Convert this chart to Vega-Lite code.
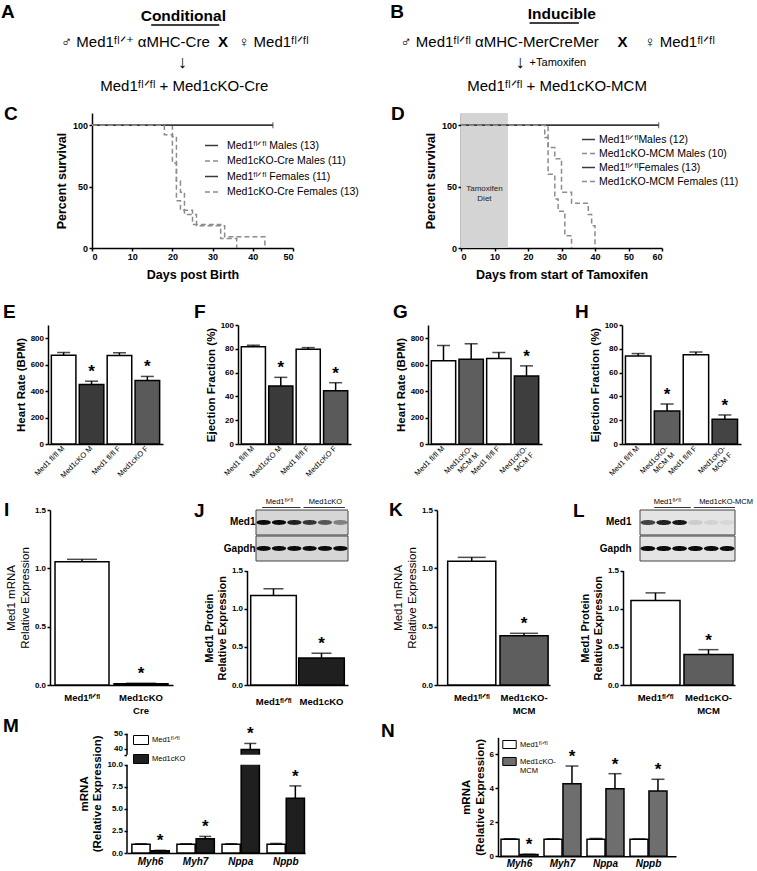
{
"$schema": "https://vega.github.io/schema/vega-lite/v6.json",
"padding": 0,
"background": "white",
"columns": 1,
"spacing": 0,
"bounds": "full",
"align": "each",
"resolve": {
  "scale": {"color": "independent", "strokeDash": "independent", "fill": "independent", "opacity": "independent", "x": "independent", "y": "independent", "xOffset": "independent"},
  "legend": {"color": "independent", "strokeDash": "independent", "fill": "independent", "opacity": "independent"},
  "axis": {"x": "independent", "y": "independent"}
},
"config": {
  "font": "Liberation Sans",
  "view": {"stroke": null},
  "axis": {"labelFont": "Liberation Sans", "titleFont": "Liberation Sans", "labelFontWeight": "bold", "titleFontWeight": "bold", "labelColor": "#000", "titleColor": "#000", "domainColor": "#000", "tickColor": "#000", "domainWidth": 1.5, "tickWidth": 1.5, "tickSize": 3, "grid": false, "labelPadding": 1.5, "titlePadding": 4, "labelFontSize": 8.5, "titleFontSize": 12, "labelOverlap": false},
  "legend": {"labelFont": "Liberation Sans", "labelColor": "#000"},
  "text": {"font": "Liberation Sans", "color": "#000"},
  "title": {"font": "Liberation Sans", "color": "#000"}
},
"concat": [
{
  "spacing": 0, "bounds": "flush", "align": "each",
  "resolve": {"scale": {"x": "independent", "y": "independent"}},
  "concat": [
  {
    "width": 378, "height": 104.7,
    "view": {"fill": "#ffffff", "stroke": null},
    "data": {"values": [
      {"line": 1, "part": "heading", "text": "Conditional"},
      {"line": 2, "part": "left", "text": "♂ Med1ᶠˡᐟ⁺ αMHC-Cre"},
      {"line": 2, "part": "cross", "text": "X"},
      {"line": 2, "part": "right", "text": "♀ Med1ᶠˡᐟᶠˡ"},
      {"line": 3, "part": "arrow", "text": "↓"},
      {"line": 4, "part": "offspring", "text": "Med1ᶠˡᐟᶠˡ + Med1cKO-Cre"}
    ]},
    "encoding": {"y": {"field": "line", "type": "ordinal", "scale": {"type": "point", "range": [16, 86], "padding": 0}, "axis": null}},
    "layer": [
      {"transform": [{"filter": "datum.part == 'heading'"}], "mark": {"type": "text", "fontSize": 15.5, "fontWeight": "bold", "align": "center", "baseline": "middle"}, "encoding": {"text": {"field": "text"}, "x": {"datum": 194, "type": "quantitative", "scale": {"domain": [0, 378]}, "axis": null}}},
      {"transform": [{"filter": "datum.part == 'left'"}], "mark": {"type": "text", "fontSize": 15, "align": "right", "baseline": "middle", "dy": 3}, "encoding": {"text": {"field": "text"}, "x": {"datum": 222, "type": "quantitative"}}},
      {"transform": [{"filter": "datum.part == 'cross'"}], "mark": {"type": "text", "fontSize": 15, "fontWeight": "bold", "align": "center", "baseline": "middle", "dy": 3}, "encoding": {"text": {"field": "text"}, "x": {"datum": 236, "type": "quantitative"}}},
      {"transform": [{"filter": "datum.part == 'right'"}], "mark": {"type": "text", "fontSize": 15, "align": "left", "baseline": "middle", "dy": 3}, "encoding": {"text": {"field": "text"}, "x": {"datum": 252, "type": "quantitative"}}},
      {"transform": [{"filter": "datum.part == 'arrow'"}], "mark": {"type": "text", "fontSize": 18, "fontWeight": "bold", "align": "center", "baseline": "middle"}, "encoding": {"text": {"field": "text"}, "x": {"datum": 193, "type": "quantitative"}}},
      {"transform": [{"filter": "datum.part == 'offspring'"}], "mark": {"type": "text", "fontSize": 15, "align": "center", "baseline": "middle"}, "encoding": {"text": {"field": "text"}, "x": {"datum": 195, "type": "quantitative"}}},
      {"transform": [{"filter": "datum.part == 'heading'"}], "mark": {"type": "rule", "strokeWidth": 1.3, "color": "#000", "yOffset": 9}, "encoding": {"x": {"datum": 160, "type": "quantitative"}, "x2": {"datum": 232}}},
      {"transform": [{"filter": "datum.part == 'heading'"}], "mark": {"type": "text", "text": "A", "fontSize": 19, "fontWeight": "bold", "align": "left", "baseline": "middle", "dy": -4}, "encoding": {"x": {"datum": 1, "type": "quantitative"}}}
    ]
  },
  {
    "width": 379, "height": 104.7,
    "view": {"fill": "#ffffff", "stroke": null},
    "data": {"values": [
      {"line": 1, "part": "heading", "text": "Inducible"},
      {"line": 2, "part": "left", "text": "♂ Med1ᶠˡᐟᶠˡ αMHC-MerCreMer"},
      {"line": 2, "part": "cross", "text": "X"},
      {"line": 2, "part": "right", "text": "♀ Med1ᶠˡᐟᶠˡ"},
      {"line": 3, "part": "arrow", "text": "↓"},
      {"line": 3, "part": "note", "text": "+Tamoxifen"},
      {"line": 4, "part": "offspring", "text": "Med1ᶠˡᐟᶠˡ + Med1cKO-MCM"}
    ]},
    "encoding": {"y": {"field": "line", "type": "ordinal", "scale": {"type": "point", "range": [14, 86], "padding": 0}, "axis": null}},
    "layer": [
      {"transform": [{"filter": "datum.part == 'heading'"}], "mark": {"type": "text", "fontSize": 15.5, "fontWeight": "bold", "align": "center", "baseline": "middle"}, "encoding": {"text": {"field": "text"}, "x": {"datum": 194, "type": "quantitative", "scale": {"domain": [0, 379]}, "axis": null}}},
      {"transform": [{"filter": "datum.part == 'left'"}], "mark": {"type": "text", "fontSize": 15, "align": "right", "baseline": "middle", "dy": 4}, "encoding": {"text": {"field": "text"}, "x": {"datum": 233, "type": "quantitative"}}},
      {"transform": [{"filter": "datum.part == 'cross'"}], "mark": {"type": "text", "fontSize": 15, "fontWeight": "bold", "align": "center", "baseline": "middle", "dy": 4}, "encoding": {"text": {"field": "text"}, "x": {"datum": 258, "type": "quantitative"}}},
      {"transform": [{"filter": "datum.part == 'right'"}], "mark": {"type": "text", "fontSize": 15, "align": "left", "baseline": "middle", "dy": 4}, "encoding": {"text": {"field": "text"}, "x": {"datum": 281, "type": "quantitative"}}},
      {"transform": [{"filter": "datum.part == 'arrow'"}], "mark": {"type": "text", "fontSize": 18, "fontWeight": "bold", "align": "center", "baseline": "middle", "dy": 1}, "encoding": {"text": {"field": "text"}, "x": {"datum": 150, "type": "quantitative"}}},
      {"transform": [{"filter": "datum.part == 'note'"}], "mark": {"type": "text", "fontSize": 11, "align": "left", "baseline": "middle", "dy": 1}, "encoding": {"text": {"field": "text"}, "x": {"datum": 160, "type": "quantitative"}}},
      {"transform": [{"filter": "datum.part == 'offspring'"}], "mark": {"type": "text", "fontSize": 15, "align": "center", "baseline": "middle"}, "encoding": {"text": {"field": "text"}, "x": {"datum": 189, "type": "quantitative"}}},
      {"transform": [{"filter": "datum.part == 'heading'"}], "mark": {"type": "rule", "strokeWidth": 1.3, "color": "#000", "yOffset": 9}, "encoding": {"x": {"datum": 160, "type": "quantitative"}, "x2": {"datum": 212}}},
      {"transform": [{"filter": "datum.part == 'heading'"}], "mark": {"type": "text", "text": "B", "fontSize": 19, "fontWeight": "bold", "align": "left", "baseline": "middle", "dy": -2}, "encoding": {"x": {"datum": 13, "type": "quantitative"}}}
    ]
  }
  ]
},
{
  "spacing": 0, "bounds": "flush", "align": "each",
  "resolve": {"scale": {"color": "independent", "strokeDash": "independent", "x": "independent", "y": "independent"}, "legend": {"color": "independent", "strokeDash": "independent"}},
  "concat": [
  {"width": 92, "height": 189.7, "data": {"values": []}, "mark": "point", "view": {"fill": "#ffffff", "stroke": null}},
  {
    "width": 201, "height": 135,
    "title": {"text": "C", "anchor": "start", "frame": "group", "fontSize": 19, "fontWeight": "bold", "dx": -88, "dy": 26, "offset": 0, "baseline": "alphabetic"},
    "layer": [
      {
        "data": {"values": [
          {"group": "Med1ᶠˡᐟᶠˡ Males (13)", "day": 0, "surv": 100},
          {"group": "Med1ᶠˡᐟᶠˡ Males (13)", "day": 45, "surv": 100},
          {"group": "Med1cKO-Cre Males (11)", "day": 0, "surv": 100},
          {"group": "Med1cKO-Cre Males (11)", "day": 20, "surv": 90.9},
          {"group": "Med1cKO-Cre Males (11)", "day": 21, "surv": 54.5},
          {"group": "Med1cKO-Cre Males (11)", "day": 22, "surv": 45.5},
          {"group": "Med1cKO-Cre Males (11)", "day": 23, "surv": 27.3},
          {"group": "Med1cKO-Cre Males (11)", "day": 26, "surv": 18.2},
          {"group": "Med1cKO-Cre Males (11)", "day": 33, "surv": 9.1},
          {"group": "Med1cKO-Cre Males (11)", "day": 43, "surv": 0},
          {"group": "Med1ᶠˡᐟᶠˡ Females (11)", "day": 0, "surv": 100},
          {"group": "Med1ᶠˡᐟᶠˡ Females (11)", "day": 45, "surv": 100},
          {"group": "Med1cKO-Cre Females (13)", "day": 0, "surv": 100},
          {"group": "Med1cKO-Cre Females (13)", "day": 18, "surv": 92.3},
          {"group": "Med1cKO-Cre Females (13)", "day": 20, "surv": 69.2},
          {"group": "Med1cKO-Cre Females (13)", "day": 21, "surv": 38.5},
          {"group": "Med1cKO-Cre Females (13)", "day": 22, "surv": 30.8},
          {"group": "Med1cKO-Cre Females (13)", "day": 25, "surv": 19.2},
          {"group": "Med1cKO-Cre Females (13)", "day": 32, "surv": 7.7},
          {"group": "Med1cKO-Cre Females (13)", "day": 36, "surv": 0}
        ]},
        "mark": {"type": "line", "interpolate": "step-after", "strokeWidth": 1.5},
        "encoding": {
          "x": {"field": "day", "type": "quantitative", "scale": {"domain": [0, 50], "nice": false}, "axis": {"values": [0, 10, 20, 30, 40, 50], "tickCount": 20, "title": "Days post Birth", "titlePadding": 7, "labelFontSize": 9, "titleFontSize": 12.5}},
          "y": {"field": "surv", "type": "quantitative", "scale": {"domain": [0, 110], "nice": false}, "axis": {"values": [0, 50, 100], "tickCount": 20, "title": "Percent survival", "labelFontSize": 9, "titleFontSize": 12.5}},
          "color": {"field": "group", "type": "nominal", "scale": {"domain": ["Med1ᶠˡᐟᶠˡ Males (13)", "Med1cKO-Cre Males (11)", "Med1ᶠˡᐟᶠˡ Females (11)", "Med1cKO-Cre Females (13)"], "range": ["#3a3a3a", "#8c8c8c", "#3a3a3a", "#8c8c8c"]}, "legend": {"title": null, "orient": "none", "legendX": 112, "legendY": 25, "symbolType": "stroke", "symbolSize": 170, "symbolStrokeWidth": 1.5, "labelFontSize": 10.5, "labelFontWeight": "normal", "rowPadding": 2.5, "labelOffset": 8}},
          "strokeDash": {"field": "group", "type": "nominal", "scale": {"domain": ["Med1ᶠˡᐟᶠˡ Males (13)", "Med1cKO-Cre Males (11)", "Med1ᶠˡᐟᶠˡ Females (11)", "Med1cKO-Cre Females (13)"], "range": [[1, 0], [5, 3], [1, 0], [5, 3]]}, "legend": {"title": null, "orient": "none", "legendX": 112, "legendY": 25, "symbolType": "stroke", "symbolSize": 170, "symbolStrokeWidth": 1.5, "labelFontSize": 10.5, "labelFontWeight": "normal", "rowPadding": 2.5, "labelOffset": 8}}
        }
      },
      {
        "data": {"values": [{"day": 45, "surv": 100}]},
        "mark": {"type": "tick", "orient": "vertical", "size": 6, "thickness": 1.2, "color": "#3a3a3a"},
        "encoding": {"x": {"field": "day", "type": "quantitative"}, "y": {"field": "surv", "type": "quantitative"}}
      }
    ]
  },
  {"width": 168, "height": 1, "data": {"values": []}, "mark": "point", "view": {"fill": "#ffffff", "stroke": null}},
  {
    "width": 201, "height": 135,
    "title": {"text": "D", "anchor": "start", "frame": "group", "fontSize": 19, "fontWeight": "bold", "dx": -70, "dy": 26, "offset": 0, "baseline": "alphabetic"},
    "layer": [
      {
        "data": {"values": [{"phase": "Tamoxifen Diet", "start": 0, "end": 14}]},
        "layer": [
          {"mark": {"type": "rect", "fill": "#d4d4d4"}, "encoding": {"x": {"field": "start", "type": "quantitative"}, "x2": {"field": "end"}, "y": {"datum": 0, "type": "quantitative"}, "y2": {"datum": 110}}},
          {"mark": {"type": "text", "lineBreak": " ", "fontSize": 8, "color": "#222", "align": "center", "baseline": "middle", "lineHeight": 10}, "encoding": {"text": {"field": "phase"}, "x": {"datum": 7, "type": "quantitative"}, "y": {"datum": 48, "type": "quantitative"}}}
        ]
      },
      {
        "data": {"values": [
          {"group": "Med1ᶠˡᐟᶠˡMales (12)", "day": 0, "surv": 100},
          {"group": "Med1ᶠˡᐟᶠˡMales (12)", "day": 59, "surv": 100},
          {"group": "Med1cKO-MCM Males (10)", "day": 0, "surv": 100},
          {"group": "Med1cKO-MCM Males (10)", "day": 25, "surv": 90},
          {"group": "Med1cKO-MCM Males (10)", "day": 26, "surv": 60},
          {"group": "Med1cKO-MCM Males (10)", "day": 28, "surv": 40},
          {"group": "Med1cKO-MCM Males (10)", "day": 29, "surv": 30},
          {"group": "Med1cKO-MCM Males (10)", "day": 31, "surv": 10},
          {"group": "Med1cKO-MCM Males (10)", "day": 33, "surv": 0},
          {"group": "Med1ᶠˡᐟᶠˡFemales (13)", "day": 0, "surv": 100},
          {"group": "Med1ᶠˡᐟᶠˡFemales (13)", "day": 59, "surv": 100},
          {"group": "Med1cKO-MCM Females (11)", "day": 0, "surv": 100},
          {"group": "Med1cKO-MCM Females (11)", "day": 26, "surv": 81.8},
          {"group": "Med1cKO-MCM Females (11)", "day": 28, "surv": 72.7},
          {"group": "Med1cKO-MCM Females (11)", "day": 30, "surv": 45.5},
          {"group": "Med1cKO-MCM Females (11)", "day": 33, "surv": 36.4},
          {"group": "Med1cKO-MCM Females (11)", "day": 38, "surv": 27.3},
          {"group": "Med1cKO-MCM Females (11)", "day": 39, "surv": 18.2},
          {"group": "Med1cKO-MCM Females (11)", "day": 40, "surv": 0}
        ]},
        "mark": {"type": "line", "interpolate": "step-after", "strokeWidth": 1.5},
        "encoding": {
          "x": {"field": "day", "type": "quantitative", "scale": {"domain": [0, 60], "nice": false}, "axis": {"values": [0, 10, 20, 30, 40, 50, 60], "tickCount": 20, "title": "Days from start of Tamoxifen", "titlePadding": 7, "labelFontSize": 9, "titleFontSize": 12.5}},
          "y": {"field": "surv", "type": "quantitative", "scale": {"domain": [0, 110], "nice": false}, "axis": {"values": [0, 50, 100], "tickCount": 20, "title": "Percent survival", "labelFontSize": 9, "titleFontSize": 12.5}},
          "color": {"field": "group", "type": "nominal", "scale": {"domain": ["Med1ᶠˡᐟᶠˡMales (12)", "Med1cKO-MCM Males (10)", "Med1ᶠˡᐟᶠˡFemales (13)", "Med1cKO-MCM Females (11)"], "range": ["#3a3a3a", "#8c8c8c", "#3a3a3a", "#8c8c8c"]}, "legend": {"title": null, "orient": "none", "legendX": 120, "legendY": 19, "symbolType": "stroke", "symbolSize": 170, "symbolStrokeWidth": 1.5, "labelFontSize": 10.5, "labelFontWeight": "normal", "rowPadding": 1, "labelOffset": 3}},
          "strokeDash": {"field": "group", "type": "nominal", "scale": {"domain": ["Med1ᶠˡᐟᶠˡMales (12)", "Med1cKO-MCM Males (10)", "Med1ᶠˡᐟᶠˡFemales (13)", "Med1cKO-MCM Females (11)"], "range": [[1, 0], [5, 3], [1, 0], [5, 3]]}, "legend": {"title": null, "orient": "none", "legendX": 120, "legendY": 19, "symbolType": "stroke", "symbolSize": 170, "symbolStrokeWidth": 1.5, "labelFontSize": 10.5, "labelFontWeight": "normal", "rowPadding": 1, "labelOffset": 3}}
        }
      },
      {
        "data": {"values": [{"day": 59, "surv": 100}]},
        "mark": {"type": "tick", "orient": "vertical", "size": 6, "thickness": 1.2, "color": "#3a3a3a"},
        "encoding": {"x": {"field": "day", "type": "quantitative"}, "y": {"field": "surv", "type": "quantitative"}}
      }
    ]
  }
  ]
},
{
  "spacing": 0, "bounds": "flush", "align": "each",
  "resolve": {"scale": {"fill": "independent", "x": "independent", "y": "independent"}},
  "concat": [
  {"width": 48, "height": 172, "data": {"values": []}, "mark": "point", "view": {"fill": "#ffffff", "stroke": null}},
  {
    "width": 115, "height": 119,
    "title": {"text": "E", "anchor": "start", "frame": "group", "fontSize": 19, "fontWeight": "bold", "dx": -45, "dy": 12, "offset": 0, "baseline": "alphabetic"},
    "data": {"values": [
      {"group": "Med1 fl/fl M", "bpm": 672, "upper": 692, "sig": false},
      {"group": "Med1cKO M", "bpm": 450, "upper": 475, "sig": true},
      {"group": "Med1 fl/fl F", "bpm": 670, "upper": 690, "sig": false},
      {"group": "Med1cKO F", "bpm": 481, "upper": 511, "sig": true}
    ]},
    "encoding": {"x": {"field": "group", "type": "nominal", "scale": {"domain": ["Med1 fl/fl M", "Med1cKO M", "Med1 fl/fl F", "Med1cKO F"], "paddingInner": 0.12, "paddingOuter": 0.12}, "axis": {"title": null, "ticks": false, "tickSize": 0, "labelAngle": -45, "labelAlign": "right", "labelBaseline": "middle", "labelFontSize": 7.5, "labelFontWeight": "normal", "labelPadding": 3, "labelOverlap": false, "labelExpr": "split(datum.label, '\\n')"}}},
    "layer": [
      {"mark": {"type": "bar", "stroke": "#000", "strokeWidth": 1.5}, "encoding": {"y": {"field": "bpm", "type": "quantitative", "scale": {"domain": [0, 900], "nice": false}, "axis": {"values": [0, 200, 400, 600, 800], "tickCount": 20, "title": "Heart Rate (BPM)", "labelFontSize": 8, "titleFontSize": 11.5}}, "fill": {"field": "group", "type": "nominal", "scale": {"domain": ["Med1 fl/fl M", "Med1cKO M", "Med1 fl/fl F", "Med1cKO F"], "range": ["#ffffff", "#3a3a3a", "#ffffff", "#5a5a5a"]}, "legend": null}}},
      {"mark": {"type": "rule", "color": "#000", "strokeWidth": 1.5}, "encoding": {"y": {"field": "bpm", "type": "quantitative"}, "y2": {"field": "upper"}}},
      {"mark": {"type": "tick", "color": "#000", "thickness": 1.5, "size": 13}, "encoding": {"y": {"field": "upper", "type": "quantitative"}}},
      {"transform": [{"filter": "datum.sig"}], "mark": {"type": "text", "text": "*", "fontSize": 17, "fontWeight": "bold", "baseline": "bottom"}, "encoding": {"y": {"field": "upper", "type": "quantitative"}}}
    ]
  },
  {"width": 75, "height": 1, "data": {"values": []}, "mark": "point", "view": {"fill": "#ffffff", "stroke": null}},
  {
    "width": 113, "height": 119,
    "title": {"text": "F", "anchor": "start", "frame": "group", "fontSize": 19, "fontWeight": "bold", "dx": -44, "dy": 16, "offset": 0, "baseline": "alphabetic"},
    "data": {"values": [
      {"group": "Med1 fl/fl M", "ef": 81.8, "upper": 83, "sig": false},
      {"group": "Med1cKO M", "ef": 48.7, "upper": 56, "sig": true},
      {"group": "Med1 fl/fl F", "ef": 79.6, "upper": 81, "sig": false},
      {"group": "Med1cKO F", "ef": 44.8, "upper": 51.5, "sig": true}
    ]},
    "encoding": {"x": {"field": "group", "type": "nominal", "scale": {"domain": ["Med1 fl/fl M", "Med1cKO M", "Med1 fl/fl F", "Med1cKO F"], "paddingInner": 0.12, "paddingOuter": 0.12}, "axis": {"title": null, "ticks": false, "tickSize": 0, "labelAngle": -45, "labelAlign": "right", "labelBaseline": "middle", "labelFontSize": 7.5, "labelFontWeight": "normal", "labelPadding": 3, "labelOverlap": false, "labelExpr": "split(datum.label, '\\n')"}}},
    "layer": [
      {"mark": {"type": "bar", "stroke": "#000", "strokeWidth": 1.5}, "encoding": {"y": {"field": "ef", "type": "quantitative", "scale": {"domain": [0, 100], "nice": false}, "axis": {"values": [0, 20, 40, 60, 80, 100], "tickCount": 20, "title": "Ejection  Fraction (%)", "labelFontSize": 8, "titleFontSize": 11.5}}, "fill": {"field": "group", "type": "nominal", "scale": {"domain": ["Med1 fl/fl M", "Med1cKO M", "Med1 fl/fl F", "Med1cKO F"], "range": ["#ffffff", "#3a3a3a", "#ffffff", "#5a5a5a"]}, "legend": null}}},
      {"mark": {"type": "rule", "color": "#000", "strokeWidth": 1.5}, "encoding": {"y": {"field": "ef", "type": "quantitative"}, "y2": {"field": "upper"}}},
      {"mark": {"type": "tick", "color": "#000", "thickness": 1.5, "size": 13}, "encoding": {"y": {"field": "upper", "type": "quantitative"}}},
      {"transform": [{"filter": "datum.sig"}], "mark": {"type": "text", "text": "*", "fontSize": 17, "fontWeight": "bold", "baseline": "bottom"}, "encoding": {"y": {"field": "upper", "type": "quantitative"}}}
    ]
  },
  {"width": 77, "height": 1, "data": {"values": []}, "mark": "point", "view": {"fill": "#ffffff", "stroke": null}},
  {
    "width": 114, "height": 119,
    "title": {"text": "G", "anchor": "start", "frame": "group", "fontSize": 19, "fontWeight": "bold", "dx": -35, "dy": 12, "offset": 0, "baseline": "alphabetic"},
    "data": {"values": [
      {"group": "Med1 fl/fl M", "bpm": 630, "upper": 745, "sig": false},
      {"group": "Med1cKO-\nMCM M", "bpm": 641, "upper": 758, "sig": false},
      {"group": "Med1 fl/fl F", "bpm": 647, "upper": 692, "sig": false},
      {"group": "Med1cKO-\nMCM F", "bpm": 515, "upper": 591, "sig": true}
    ]},
    "encoding": {"x": {"field": "group", "type": "nominal", "scale": {"domain": ["Med1 fl/fl M", "Med1cKO-\nMCM M", "Med1 fl/fl F", "Med1cKO-\nMCM F"], "paddingInner": 0.12, "paddingOuter": 0.12}, "axis": {"title": null, "ticks": false, "tickSize": 0, "labelAngle": -45, "labelAlign": "right", "labelBaseline": "middle", "labelFontSize": 7.5, "labelFontWeight": "normal", "labelPadding": 3, "labelOverlap": false, "labelLineHeight": 9, "labelExpr": "split(datum.label, '\\n')"}}},
    "layer": [
      {"mark": {"type": "bar", "stroke": "#000", "strokeWidth": 1.5}, "encoding": {"y": {"field": "bpm", "type": "quantitative", "scale": {"domain": [0, 900], "nice": false}, "axis": {"values": [0, 200, 400, 600, 800], "tickCount": 20, "title": "Heart Rate (BPM)", "labelFontSize": 8, "titleFontSize": 11.5}}, "fill": {"field": "group", "type": "nominal", "scale": {"domain": ["Med1 fl/fl M", "Med1cKO-\nMCM M", "Med1 fl/fl F", "Med1cKO-\nMCM F"], "range": ["#ffffff", "#5e5e5e", "#ffffff", "#3e3e3e"]}, "legend": null}}},
      {"mark": {"type": "rule", "color": "#000", "strokeWidth": 1.5}, "encoding": {"y": {"field": "bpm", "type": "quantitative"}, "y2": {"field": "upper"}}},
      {"mark": {"type": "tick", "color": "#000", "thickness": 1.5, "size": 13}, "encoding": {"y": {"field": "upper", "type": "quantitative"}}},
      {"transform": [{"filter": "datum.sig"}], "mark": {"type": "text", "text": "*", "fontSize": 17, "fontWeight": "bold", "baseline": "bottom"}, "encoding": {"y": {"field": "upper", "type": "quantitative"}}}
    ]
  },
  {"width": 80, "height": 1, "data": {"values": []}, "mark": "point", "view": {"fill": "#ffffff", "stroke": null}},
  {
    "width": 119, "height": 119,
    "title": {"text": "H", "anchor": "start", "frame": "group", "fontSize": 19, "fontWeight": "bold", "dx": -47, "dy": 16, "offset": 0, "baseline": "alphabetic"},
    "data": {"values": [
      {"group": "Med1 fl/fl M", "ef": 74, "upper": 76, "sig": false},
      {"group": "Med1cKO-\nMCM M", "ef": 27.7, "upper": 33.6, "sig": true},
      {"group": "Med1 fl/fl F", "ef": 75, "upper": 77.3, "sig": false},
      {"group": "Med1cKO-\nMCM F", "ef": 20.7, "upper": 24.4, "sig": true}
    ]},
    "encoding": {"x": {"field": "group", "type": "nominal", "scale": {"domain": ["Med1 fl/fl M", "Med1cKO-\nMCM M", "Med1 fl/fl F", "Med1cKO-\nMCM F"], "paddingInner": 0.12, "paddingOuter": 0.12}, "axis": {"title": null, "ticks": false, "tickSize": 0, "labelAngle": -45, "labelAlign": "right", "labelBaseline": "middle", "labelFontSize": 7.5, "labelFontWeight": "normal", "labelPadding": 3, "labelOverlap": false, "labelLineHeight": 9, "labelExpr": "split(datum.label, '\\n')"}}},
    "layer": [
      {"mark": {"type": "bar", "stroke": "#000", "strokeWidth": 1.5}, "encoding": {"y": {"field": "ef", "type": "quantitative", "scale": {"domain": [0, 100], "nice": false}, "axis": {"values": [0, 20, 40, 60, 80, 100], "tickCount": 20, "title": "Ejection  Fraction (%)", "labelFontSize": 8, "titleFontSize": 11.5}}, "fill": {"field": "group", "type": "nominal", "scale": {"domain": ["Med1 fl/fl M", "Med1cKO-\nMCM M", "Med1 fl/fl F", "Med1cKO-\nMCM F"], "range": ["#ffffff", "#5e5e5e", "#ffffff", "#444444"]}, "legend": null}}},
      {"mark": {"type": "rule", "color": "#000", "strokeWidth": 1.5}, "encoding": {"y": {"field": "ef", "type": "quantitative"}, "y2": {"field": "upper"}}},
      {"mark": {"type": "tick", "color": "#000", "thickness": 1.5, "size": 13}, "encoding": {"y": {"field": "upper", "type": "quantitative"}}},
      {"transform": [{"filter": "datum.sig"}], "mark": {"type": "text", "text": "*", "fontSize": 17, "fontWeight": "bold", "baseline": "bottom"}, "encoding": {"y": {"field": "upper", "type": "quantitative"}}}
    ]
  }
  ]
},
{
  "spacing": 0, "bounds": "flush", "align": "each",
  "resolve": {"scale": {"fill": "independent", "opacity": "independent", "x": "independent", "y": "independent"}},
  "concat": [
  {"width": 50, "height": 206.4, "data": {"values": []}, "mark": "point", "view": {"fill": "#ffffff", "stroke": null}},
  {
    "width": 123, "height": 175,
    "title": {"text": "I", "anchor": "start", "frame": "group", "fontSize": 19, "fontWeight": "bold", "dx": -46, "dy": 29, "offset": 0, "baseline": "alphabetic"},
    "data": {"values": [
      {"genotype": "Med1ᶠˡᐟᶠˡ", "expr": 1.057, "upper": 1.077, "sig": false},
      {"genotype": "Med1cKO\nCre", "expr": 0.01, "upper": 0.015, "sig": true}
    ]},
    "encoding": {"x": {"field": "genotype", "type": "nominal", "scale": {"domain": ["Med1ᶠˡᐟᶠˡ", "Med1cKO\nCre"], "paddingInner": 0.085, "paddingOuter": 0.085}, "axis": {"title": null, "ticks": false, "tickSize": 0, "labelAngle": 0, "labelFontSize": 9.5, "labelPadding": 12, "labelBaseline": "middle", "labelOverlap": false, "labelLineHeight": 13, "labelExpr": "split(datum.label, '\\n')"}}},
    "layer": [
      {"mark": {"type": "bar", "stroke": "#000", "strokeWidth": 1.5}, "encoding": {"y": {"field": "expr", "type": "quantitative", "scale": {"domain": [0, 1.5], "nice": false}, "axis": {"values": [0, 0.5, 1, 1.5], "tickCount": 20, "format": ".1f", "title": ["Med1 mRNA", "Relative  Expression"], "titleFontWeight": "normal", "labelFontSize": 8, "titleFontSize": 11.5}}, "fill": {"field": "genotype", "type": "nominal", "scale": {"domain": ["Med1ᶠˡᐟᶠˡ", "Med1cKO\nCre"], "range": ["#ffffff", "#1a1a1a"]}, "legend": null}}},
      {"mark": {"type": "rule", "color": "#000", "strokeWidth": 1.5}, "encoding": {"y": {"field": "expr", "type": "quantitative"}, "y2": {"field": "upper"}}},
      {"mark": {"type": "tick", "color": "#000", "thickness": 1.5, "size": 30}, "encoding": {"y": {"field": "upper", "type": "quantitative"}}},
      {"transform": [{"filter": "datum.sig"}], "mark": {"type": "text", "text": "*", "fontSize": 17, "fontWeight": "bold", "baseline": "bottom"}, "encoding": {"y": {"field": "upper", "type": "quantitative"}}}
    ]
  },
  {"width": 74, "height": 1, "data": {"values": []}, "mark": "point", "view": {"fill": "#ffffff", "stroke": null}},
  {
    "width": 101, "height": 175,
    "title": {"text": "J", "anchor": "start", "frame": "group", "fontSize": 19, "fontWeight": "bold", "dx": -53, "dy": 39, "offset": 0, "baseline": "alphabetic"},
    "layer": [
      {
        "data": {"values": [
          {"genotype": "Med1ᶠˡᐟᶠˡ", "protein": 1.172, "upper": 1.26, "sig": false},
          {"genotype": "Med1cKO", "protein": 0.354, "upper": 0.416, "sig": true}
        ]},
        "encoding": {"x": {"field": "genotype", "type": "nominal", "scale": {"domain": ["Med1ᶠˡᐟᶠˡ", "Med1cKO"], "paddingInner": 0.05, "paddingOuter": 0.077}, "axis": {"title": null, "ticks": false, "tickSize": 0, "labelAngle": 0, "labelFontSize": 9.5, "labelPadding": 16, "labelBaseline": "middle", "labelOverlap": false, "labelLineHeight": 13, "labelExpr": "split(datum.label, '\\n')"}}},
        "layer": [
          {"mark": {"type": "bar", "stroke": "#000", "strokeWidth": 1.5}, "encoding": {"y": {"field": "protein", "type": "quantitative", "scale": {"domain": [0, 1.5], "nice": false, "range": [175, 60.5]}, "axis": {"values": [0, 0.5, 1, 1.5], "tickCount": 20, "format": ".1f", "title": ["Med1 Protein", "Relative Expression"], "labelFontSize": 8, "titleFontSize": 11}}, "fill": {"field": "genotype", "type": "nominal", "scale": {"domain": ["Med1ᶠˡᐟᶠˡ", "Med1cKO"], "range": ["#ffffff", "#1f1f1f"]}, "legend": null}}},
          {"mark": {"type": "rule", "color": "#000", "strokeWidth": 1.5}, "encoding": {"y": {"field": "protein", "type": "quantitative"}, "y2": {"field": "upper"}}},
          {"mark": {"type": "tick", "color": "#000", "thickness": 1.5, "size": 20}, "encoding": {"y": {"field": "upper", "type": "quantitative"}}},
          {"transform": [{"filter": "datum.sig"}], "mark": {"type": "text", "text": "*", "fontSize": 17, "fontWeight": "bold", "baseline": "bottom"}, "encoding": {"y": {"field": "upper", "type": "quantitative"}}}
        ]
      },
      {
        "layer": [
          {"data": {"values": [{"band": "Med1"}, {"band": "Gapdh"}]}, "mark": {"type": "rect", "fill": "#d6d6d6", "stroke": "#444", "strokeWidth": 1},
           "encoding": {"y": {"field": "band", "type": "nominal", "scale": {"domain": ["Med1", "Gapdh"], "range": [0, 51], "paddingInner": 0.04, "paddingOuter": 0}, "axis": {"orient": "left", "title": null, "ticks": false, "domain": false, "labelFontSize": 10, "labelFontWeight": "bold", "offset": -9, "labelPadding": 1}},
                        "x": {"datum": 0, "type": "quantitative", "scale": {"domain": [0, 6], "range": [9, 101], "nice": false, "zero": false}, "axis": {"orient": "top", "title": null, "ticks": false, "tickSize": 0, "domain": false, "values": [1.5, 4.5], "tickCount": 20, "labelExpr": "datum.value < 3 ? 'Med1ᶠˡᐟᶠˡ' : 'Med1cKO'", "labelFontSize": 7.5, "labelFontWeight": "normal", "labelPadding": 5}},
                        "x2": {"datum": 6}}},
          {"data": {"values": [
            {"band": "Med1", "lane": 0.5, "intensity": 0.95}, {"band": "Med1", "lane": 1.5, "intensity": 0.95}, {"band": "Med1", "lane": 2.5, "intensity": 0.85},
            {"band": "Med1", "lane": 3.5, "intensity": 0.75}, {"band": "Med1", "lane": 4.5, "intensity": 0.6}, {"band": "Med1", "lane": 5.5, "intensity": 0.4},
            {"band": "Gapdh", "lane": 0.5, "intensity": 0.95}, {"band": "Gapdh", "lane": 1.5, "intensity": 0.95}, {"band": "Gapdh", "lane": 2.5, "intensity": 0.95},
            {"band": "Gapdh", "lane": 3.5, "intensity": 0.95}, {"band": "Gapdh", "lane": 4.5, "intensity": 0.95}, {"band": "Gapdh", "lane": 5.5, "intensity": 0.95}
           ]},
           "mark": {"type": "point", "shape": "M-1,0C-1,-0.45,1,-0.45,1,0C1,0.45,-1,0.45,-1,0Z", "size": 200, "filled": true, "color": "#000"},
           "encoding": {"x": {"field": "lane", "type": "quantitative"}, "y": {"field": "band", "type": "nominal"}, "opacity": {"field": "intensity", "type": "quantitative", "scale": {"domain": [0, 1], "range": [0, 1]}, "legend": null}}},
          {"data": {"values": [{"grp": "Med1ᶠˡᐟᶠˡ", "from": 0.4, "to": 2.9}, {"grp": "Med1cKO", "from": 3.1, "to": 5.8}]},
           "mark": {"type": "rule", "strokeWidth": 1, "color": "#333", "yOffset": -2.5},
           "encoding": {"x": {"field": "from", "type": "quantitative"}, "x2": {"field": "to"}, "y": {"datum": "Med1", "type": "nominal", "bandPosition": 0}}}
        ]
      }
    ],
    "resolve": {"scale": {"x": "independent", "y": "independent"}, "axis": {"x": "independent", "y": "independent"}}
  },
  {"width": 89, "height": 1, "data": {"values": []}, "mark": "point", "view": {"fill": "#ffffff", "stroke": null}},
  {
    "width": 113, "height": 175,
    "title": {"text": "K", "anchor": "start", "frame": "group", "fontSize": 19, "fontWeight": "bold", "dx": -48, "dy": 29, "offset": 0, "baseline": "alphabetic"},
    "data": {"values": [
      {"genotype": "Med1ᶠˡᐟᶠˡ", "expr": 1.06, "upper": 1.094, "sig": false},
      {"genotype": "Med1cKO-\nMCM", "expr": 0.423, "upper": 0.443, "sig": true}
    ]},
    "encoding": {"x": {"field": "genotype", "type": "nominal", "scale": {"domain": ["Med1ᶠˡᐟᶠˡ", "Med1cKO-\nMCM"], "paddingInner": 0.08, "paddingOuter": 0.12, "align": 0.85}, "axis": {"title": null, "ticks": false, "tickSize": 0, "labelAngle": 0, "labelFontSize": 9.5, "labelPadding": 12, "labelBaseline": "middle", "labelOverlap": false, "labelLineHeight": 13, "labelExpr": "split(datum.label, '\\n')"}}},
    "layer": [
      {"mark": {"type": "bar", "stroke": "#000", "strokeWidth": 1.5}, "encoding": {"y": {"field": "expr", "type": "quantitative", "scale": {"domain": [0, 1.5], "nice": false}, "axis": {"values": [0, 0.5, 1, 1.5], "tickCount": 20, "format": ".1f", "title": ["Med1 mRNA", "Relative  Expression"], "titleFontWeight": "normal", "labelFontSize": 8, "titleFontSize": 11.5}}, "fill": {"field": "genotype", "type": "nominal", "scale": {"domain": ["Med1ᶠˡᐟᶠˡ", "Med1cKO-\nMCM"], "range": ["#ffffff", "#5e5e5e"]}, "legend": null}}},
      {"mark": {"type": "rule", "color": "#000", "strokeWidth": 1.5}, "encoding": {"y": {"field": "expr", "type": "quantitative"}, "y2": {"field": "upper"}}},
      {"mark": {"type": "tick", "color": "#000", "thickness": 1.5, "size": 28}, "encoding": {"y": {"field": "upper", "type": "quantitative"}}},
      {"transform": [{"filter": "datum.sig"}], "mark": {"type": "text", "text": "*", "fontSize": 17, "fontWeight": "bold", "baseline": "bottom"}, "encoding": {"y": {"field": "upper", "type": "quantitative"}}}
    ]
  },
  {"width": 73, "height": 1, "data": {"values": []}, "mark": "point", "view": {"fill": "#ffffff", "stroke": null}},
  {
    "width": 112, "height": 175,
    "title": {"text": "L", "anchor": "start", "frame": "group", "fontSize": 19, "fontWeight": "bold", "dx": -50, "dy": 39, "offset": 0, "baseline": "alphabetic"},
    "layer": [
      {
        "data": {"values": [
          {"genotype": "Med1ᶠˡᐟᶠˡ", "protein": 1.106, "upper": 1.207, "sig": false},
          {"genotype": "Med1cKO-\nMCM", "protein": 0.398, "upper": 0.463, "sig": true}
        ]},
        "encoding": {"x": {"field": "genotype", "type": "nominal", "scale": {"domain": ["Med1ᶠˡᐟᶠˡ", "Med1cKO-\nMCM"], "paddingInner": 0.075, "paddingOuter": 0.094, "align": 0.8}, "axis": {"title": null, "ticks": false, "tickSize": 0, "labelAngle": 0, "labelFontSize": 9.5, "labelPadding": 12, "labelBaseline": "middle", "labelOverlap": false, "labelLineHeight": 13, "labelExpr": "split(datum.label, '\\n')"}}},
        "layer": [
          {"mark": {"type": "bar", "stroke": "#000", "strokeWidth": 1.5}, "encoding": {"y": {"field": "protein", "type": "quantitative", "scale": {"domain": [0, 1.5], "nice": false, "range": [175, 60.5]}, "axis": {"values": [0, 0.5, 1, 1.5], "tickCount": 20, "format": ".1f", "title": ["Med1 Protein", "Relative Expression"], "labelFontSize": 8, "titleFontSize": 11}}, "fill": {"field": "genotype", "type": "nominal", "scale": {"domain": ["Med1ᶠˡᐟᶠˡ", "Med1cKO-\nMCM"], "range": ["#ffffff", "#5e5e5e"]}, "legend": null}}},
          {"mark": {"type": "rule", "color": "#000", "strokeWidth": 1.5}, "encoding": {"y": {"field": "protein", "type": "quantitative"}, "y2": {"field": "upper"}}},
          {"mark": {"type": "tick", "color": "#000", "thickness": 1.5, "size": 20}, "encoding": {"y": {"field": "upper", "type": "quantitative"}}},
          {"transform": [{"filter": "datum.sig"}], "mark": {"type": "text", "text": "*", "fontSize": 17, "fontWeight": "bold", "baseline": "bottom"}, "encoding": {"y": {"field": "upper", "type": "quantitative"}}}
        ]
      },
      {
        "layer": [
          {"data": {"values": [{"band": "Med1"}, {"band": "Gapdh"}]}, "mark": {"type": "rect", "fill": "#e4e4e4", "stroke": "#444", "strokeWidth": 1},
           "encoding": {"y": {"field": "band", "type": "nominal", "scale": {"domain": ["Med1", "Gapdh"], "range": [0, 51], "paddingInner": 0.04, "paddingOuter": 0}, "axis": {"orient": "left", "title": null, "ticks": false, "domain": false, "labelFontSize": 10, "labelFontWeight": "bold", "offset": -10, "labelPadding": 2}},
                        "x": {"datum": 0, "type": "quantitative", "scale": {"domain": [0, 6], "range": [17, 112], "nice": false, "zero": false}, "axis": {"orient": "top", "title": null, "ticks": false, "tickSize": 0, "domain": false, "values": [1.7, 5.4], "tickCount": 20, "labelExpr": "datum.value < 3 ? 'Med1ᶠˡᐟᶠˡ' : 'Med1cKO-MCM'", "labelFontSize": 7.5, "labelFontWeight": "normal", "labelPadding": 5}},
                        "x2": {"datum": 6}}},
          {"data": {"values": [
            {"band": "Med1", "lane": 0.5, "intensity": 0.7}, {"band": "Med1", "lane": 1.5, "intensity": 0.85}, {"band": "Med1", "lane": 2.5, "intensity": 0.9},
            {"band": "Med1", "lane": 3.5, "intensity": 0.1}, {"band": "Med1", "lane": 4.5, "intensity": 0.07}, {"band": "Med1", "lane": 5.5, "intensity": 0.05},
            {"band": "Gapdh", "lane": 0.5, "intensity": 0.95}, {"band": "Gapdh", "lane": 1.5, "intensity": 0.95}, {"band": "Gapdh", "lane": 2.5, "intensity": 0.95},
            {"band": "Gapdh", "lane": 3.5, "intensity": 0.95}, {"band": "Gapdh", "lane": 4.5, "intensity": 0.95}, {"band": "Gapdh", "lane": 5.5, "intensity": 0.95}
           ]},
           "mark": {"type": "point", "shape": "M-1,0C-1,-0.45,1,-0.45,1,0C1,0.45,-1,0.45,-1,0Z", "size": 220, "filled": true, "color": "#000"},
           "encoding": {"x": {"field": "lane", "type": "quantitative"}, "y": {"field": "band", "type": "nominal"}, "opacity": {"field": "intensity", "type": "quantitative", "scale": {"domain": [0, 1], "range": [0, 1]}, "legend": null}}},
          {"data": {"values": [{"grp": "Med1ᶠˡᐟᶠˡ", "from": 0.9, "to": 3.2}, {"grp": "Med1cKO-MCM", "from": 3.4, "to": 6.0}]},
           "mark": {"type": "rule", "strokeWidth": 1, "color": "#333", "yOffset": -2.5},
           "encoding": {"x": {"field": "from", "type": "quantitative"}, "x2": {"field": "to"}, "y": {"datum": "Med1", "type": "nominal", "bandPosition": 0}}}
        ]
      }
    ],
    "resolve": {"scale": {"x": "independent", "y": "independent"}, "axis": {"x": "independent", "y": "independent"}}
  }
  ]
},
{
  "spacing": 0, "bounds": "flush", "align": "each",
  "resolve": {"scale": {"fill": "independent", "x": "independent", "y": "independent", "xOffset": "independent"}, "legend": {"fill": "independent"}},
  "concat": [
  {"width": 127, "height": 124, "data": {"values": []}, "mark": "point", "view": {"fill": "#ffffff", "stroke": null}},
  {
    "width": 178, "height": 120,
    "title": {"text": "M", "anchor": "start", "frame": "group", "fontSize": 19, "fontWeight": "bold", "dx": -124, "dy": 26, "offset": 0, "baseline": "alphabetic"},
    "layer": [
      {
        "data": {"values": [
          {"gene": "Myh6", "genotype": "Med1ᶠˡᐟᶠˡ", "expr": 1.0, "upper": 1.05, "sig": false},
          {"gene": "Myh6", "genotype": "Med1cKO", "expr": 0.25, "upper": 0.3, "sig": true},
          {"gene": "Myh7", "genotype": "Med1ᶠˡᐟᶠˡ", "expr": 1.0, "upper": 1.05, "sig": false},
          {"gene": "Myh7", "genotype": "Med1cKO", "expr": 1.62, "upper": 1.88, "sig": true},
          {"gene": "Nppa", "genotype": "Med1ᶠˡᐟᶠˡ", "expr": 1.0, "upper": 1.05, "sig": false},
          {"gene": "Nppa", "genotype": "Med1cKO", "expr": 39.5, "upper": 43.5, "sig": true},
          {"gene": "Nppb", "genotype": "Med1ᶠˡᐟᶠˡ", "expr": 1.0, "upper": 1.08, "sig": false},
          {"gene": "Nppb", "genotype": "Med1cKO", "expr": 6.2, "upper": 7.6, "sig": true}
        ]},
        "encoding": {
          "x": {"field": "gene", "type": "nominal", "scale": {"domain": ["Myh6", "Myh7", "Nppa", "Nppb"], "paddingInner": 0.17, "paddingOuter": 0.06, "align": 0.9}, "axis": {"title": null, "ticks": false, "tickSize": 0, "labelAngle": 0, "labelFontStyle": "italic", "labelFontSize": 10, "labelPadding": 3}},
          "xOffset": {"field": "genotype", "type": "nominal", "scale": {"domain": ["Med1ᶠˡᐟᶠˡ", "Med1cKO"], "paddingInner": 0.05}}
        },
        "layer": [
          {"mark": {"type": "bar", "stroke": "#000", "strokeWidth": 1.5}, "encoding": {"y": {"field": "expr", "type": "quantitative", "scale": {"type": "linear", "domain": [0, 10, 36, 50], "range": [120, 31.7, 21.7, 0.7], "nice": false, "zero": false}, "axis": {"domain": false, "values": [0, 2.5, 5, 7.5, 10, 36, 40, 50], "tickCount": 20, "labelOverlap": false, "labelExpr": "datum.value == 36 ? '' : datum.value > 20 ? format(datum.value, 'd') : format(datum.value, '.1f')", "title": ["mRNA", "(Relative Expression)"], "labelFontSize": 8, "titleFontSize": 11.5}},
            "fill": {"field": "genotype", "type": "nominal", "scale": {"domain": ["Med1ᶠˡᐟᶠˡ", "Med1cKO"], "range": ["#ffffff", "#1f1f1f"]}, "legend": {"title": null, "orient": "none", "legendX": 6, "legendY": -1, "symbolType": "M-1,-0.6L1,-0.6L1,0.6L-1,0.6Z", "symbolSize": 225, "symbolStrokeColor": "#000", "symbolStrokeWidth": 1, "labelFontSize": 7.5, "labelFontWeight": "normal", "rowPadding": 4, "labelOffset": 3}}}},
          {"mark": {"type": "rule", "color": "#000", "strokeWidth": 1.5}, "encoding": {"y": {"field": "expr", "type": "quantitative"}, "y2": {"field": "upper"}}},
          {"mark": {"type": "tick", "color": "#000", "thickness": 1.5, "size": 12}, "encoding": {"y": {"field": "upper", "type": "quantitative"}}},
          {"transform": [{"filter": "datum.sig"}], "mark": {"type": "text", "text": "*", "fontSize": 17, "fontWeight": "bold", "baseline": "bottom"}, "encoding": {"y": {"field": "upper", "type": "quantitative"}}}
        ]
      },
      {"data": {"values": [{"break_from": 10, "break_to": 36}]}, "mark": {"type": "rect", "fill": "#ffffff"}, "encoding": {"y": {"field": "break_from", "type": "quantitative"}, "y2": {"field": "break_to"}}},
      {"data": {"values": [{"seg_from": 0, "seg_to": 10}, {"seg_from": 36, "seg_to": 50}]}, "mark": {"type": "rule", "strokeWidth": 1.5, "color": "#000"}, "encoding": {"x": {"value": 0}, "y": {"field": "seg_from", "type": "quantitative"}, "y2": {"field": "seg_to"}}}
    ]
  },
  {"width": 193, "height": 1, "data": {"values": []}, "mark": "point", "view": {"fill": "#ffffff", "stroke": null}},
  {
    "width": 178, "height": 123.3,
    "title": {"text": "N", "anchor": "start", "frame": "group", "fontSize": 19, "fontWeight": "bold", "dx": -117, "dy": 23, "offset": 0, "baseline": "alphabetic"},
    "data": {"values": [
      {"gene": "Myh6", "genotype": "Med1ᶠˡᐟᶠˡ", "expr": 1.0, "upper": 1.03, "sig": false},
      {"gene": "Myh6", "genotype": "Med1cKO-\nMCM", "expr": 0.1, "upper": 0.12, "sig": true},
      {"gene": "Myh7", "genotype": "Med1ᶠˡᐟᶠˡ", "expr": 1.0, "upper": 1.03, "sig": false},
      {"gene": "Myh7", "genotype": "Med1cKO-\nMCM", "expr": 4.27, "upper": 5.31, "sig": true},
      {"gene": "Nppa", "genotype": "Med1ᶠˡᐟᶠˡ", "expr": 1.0, "upper": 1.05, "sig": false},
      {"gene": "Nppa", "genotype": "Med1cKO-\nMCM", "expr": 3.98, "upper": 4.86, "sig": true},
      {"gene": "Nppb", "genotype": "Med1ᶠˡᐟᶠˡ", "expr": 1.0, "upper": 1.02, "sig": false},
      {"gene": "Nppb", "genotype": "Med1cKO-\nMCM", "expr": 3.84, "upper": 4.53, "sig": true}
    ]},
    "encoding": {
      "x": {"field": "gene", "type": "nominal", "scale": {"domain": ["Myh6", "Myh7", "Nppa", "Nppb"], "paddingInner": 0.14, "paddingOuter": 0.14, "align": 0.25}, "axis": {"title": null, "ticks": false, "tickSize": 0, "labelAngle": 0, "labelFontStyle": "italic", "labelFontSize": 10, "labelPadding": 2}},
      "xOffset": {"field": "genotype", "type": "nominal", "scale": {"domain": ["Med1ᶠˡᐟᶠˡ", "Med1cKO-\nMCM"], "paddingInner": 0.05}}
    },
    "layer": [
      {"mark": {"type": "bar", "stroke": "#000", "strokeWidth": 1.5}, "encoding": {"y": {"field": "expr", "type": "quantitative", "scale": {"domain": [0, 7], "range": [123.3, 4.3], "nice": false}, "axis": {"values": [0, 2, 4, 6], "tickCount": 20, "format": "d", "title": ["mRNA", "(Relative Expression)"], "labelFontSize": 8, "titleFontSize": 11.5}},
        "fill": {"field": "genotype", "type": "nominal", "scale": {"domain": ["Med1ᶠˡᐟᶠˡ", "Med1cKO-\nMCM"], "range": ["#ffffff", "#6e6e6e"]}, "legend": {"title": null, "orient": "none", "legendX": 4, "legendY": 4, "symbolType": "M-1,-0.6L1,-0.6L1,0.6L-1,0.6Z", "symbolSize": 180, "symbolStrokeColor": "#000", "symbolStrokeWidth": 1, "labelFontSize": 7.5, "labelFontWeight": "normal", "rowPadding": 3, "labelOffset": 3, "labelExpr": "split(datum.label, '\\n')"}}}},
      {"mark": {"type": "rule", "color": "#000", "strokeWidth": 1.5}, "encoding": {"y": {"field": "expr", "type": "quantitative"}, "y2": {"field": "upper"}}},
      {"mark": {"type": "tick", "color": "#000", "thickness": 1.5, "size": 13}, "encoding": {"y": {"field": "upper", "type": "quantitative"}}},
      {"transform": [{"filter": "datum.sig"}], "mark": {"type": "text", "text": "*", "fontSize": 17, "fontWeight": "bold", "baseline": "bottom"}, "encoding": {"y": {"field": "upper", "type": "quantitative"}}}
    ]
  }
  ]
}
]
}
